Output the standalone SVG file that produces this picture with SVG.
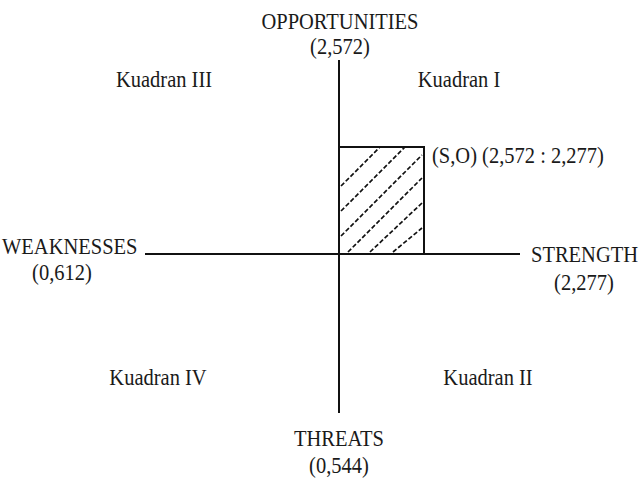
<svg xmlns="http://www.w3.org/2000/svg" width="644" height="481" viewBox="0 0 644 481">
<style>
text{font-family:"Liberation Serif","Times New Roman",serif;font-size:20.5px;fill:#1a1a1a}
.m{text-anchor:middle}
.axis{stroke:#111;stroke-width:2;fill:none}
.box{stroke:#111;stroke-width:2;fill:none}
.hatch{stroke:#111;stroke-width:1.7;stroke-dasharray:4.5 2.2;fill:none}
</style>
<rect width="644" height="481" fill="#fff"/>
<g id="connectors">
<line class="axis" x1="339" y1="60" x2="339" y2="413"/>
<line class="axis" x1="145" y1="254" x2="520" y2="254"/>
</g>
<g id="so-box">
<rect class="box" x="339" y="147" width="85" height="107"/>
<path class="hatch" d="M341 186L380 147M341 211L405 147M341 236L422 155M348 252L422 178M370 252L422 203M393 252L422 228"/>
<text transform="translate(432,163) scale(1,1.08)">(S,O) (2,572 : 2,277)</text>
</g>
<g id="opportunities"><text class="m" transform="translate(340,29) scale(1,1.08)">OPPORTUNITIES</text><text class="m" transform="translate(340,54) scale(1,1.08)">(2,572)</text></g>
<g id="threats"><text class="m" transform="translate(339,446) scale(1,1.08)">THREATS</text><text class="m" transform="translate(339,473) scale(1,1.08)">(0,544)</text></g>
<g id="weaknesses"><text transform="translate(2,254) scale(1,1.08)">WEAKNESSES</text><text class="m" transform="translate(62,280) scale(1,1.08)">(0,612)</text></g>
<g id="strength"><text transform="translate(531,262) scale(1,1.08)">STRENGTH</text><text class="m" transform="translate(584,290) scale(1,1.08)">(2,277)</text></g>
<g id="q3"><text class="m" transform="translate(164,87) scale(1,1.08)">Kuadran III</text></g>
<g id="q1"><text class="m" transform="translate(459,87) scale(1,1.08)">Kuadran I</text></g>
<g id="q4"><text class="m" transform="translate(158,385) scale(1,1.08)">Kuadran IV</text></g>
<g id="q2"><text class="m" transform="translate(488,385) scale(1,1.08)">Kuadran II</text></g>
</svg>
